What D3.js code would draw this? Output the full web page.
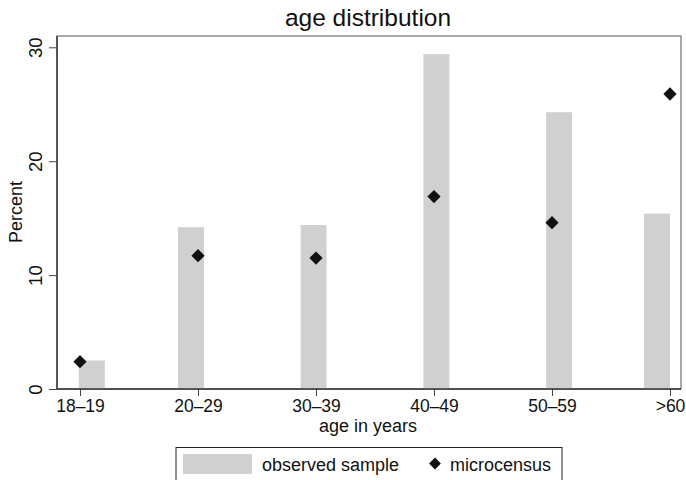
<!DOCTYPE html>
<html>
<head>
<meta charset="utf-8">
<script src="https://cdn.jsdelivr.net/npm/d3@7"></script>
<style>
  body { margin: 0; background: #fff; }
  svg text { font-family: "Liberation Sans", Arial, sans-serif; fill: #111; }
</style>
</head>
<body>
<div id="chart"></div>
<script>
const categories = ["18\u201319", "20\u201329", "30\u201339", "40\u201349", "50\u201359", ">60"];
// bars sit at their own x values (category index units), not on the ticks
const barX = [1.1, 1.94, 2.98, 4.02, 5.06, 5.89];
const observed = [2.5, 14.2, 14.4, 29.4, 24.3, 15.4];
const microcensus = [2.4, 11.7, 11.5, 16.9, 14.6, 25.9];
const yTicks = [0, 10, 20, 30];

const width = 686, height = 480;
const plotL = 57, plotR = 681, plotT = 36, plotB = 389;

const svg = d3.select("#chart")
    .append("svg")
    .attr("width", width)
    .attr("height", height);

const x = d3.scaleLinear().domain([1, 6]).range([80, 670]);
const y = d3.scaleLinear().domain([0, 30]).range([plotB, 47.3]);
const barW = x(1.22) - x(1);

// frame
svg.append("rect")
    .attr("x", plotL).attr("y", plotT)
    .attr("width", plotR - plotL).attr("height", plotB - plotT)
    .attr("fill", "none").attr("stroke", "#555").attr("stroke-width", 1);

// bars
svg.selectAll("rect.bar")
    .data(observed)
    .enter()
    .append("rect")
    .attr("class", "bar")
    .attr("x", (d, i) => x(barX[i]) - barW / 2)
    .attr("y", (d) => y(d))
    .attr("width", barW)
    .attr("height", (d) => y(0) - y(d))
    .attr("fill", "#d0d0d0");

// diamonds
const sym = d3.symbol().type(d3.symbolSquare).size(88);
svg.selectAll("path.pt")
    .data(microcensus)
    .enter()
    .append("path")
    .attr("class", "pt")
    .attr("d", sym)
    .attr("transform", (d, i) => `translate(${x(i + 1)},${y(d)}) rotate(45)`)
    .attr("fill", "#111");

// axes
const yAxis = svg.append("g")
    .attr("transform", `translate(${plotL},0)`)
    .call(d3.axisLeft(y).tickValues(yTicks).tickSize(8).tickSizeOuter(0));
yAxis.select(".domain").remove();
yAxis.selectAll("line").attr("stroke", "#444");
yAxis.selectAll(".tick text")
    .attr("font-size", 18.5)
    .attr("x", 0).attr("dy", null)
    .attr("y", -15)
    .attr("text-anchor", "middle")
    .attr("transform", "rotate(-90)");

const xAxis = svg.append("g")
    .attr("transform", `translate(0,${plotB})`)
    .call(d3.axisBottom(x).tickValues([1, 2, 3, 4, 5, 6])
        .tickFormat((d) => categories[d - 1]).tickSize(7).tickSizeOuter(0).tickPadding(4));
xAxis.select(".domain").remove();
xAxis.selectAll("line").attr("stroke", "#444");
xAxis.selectAll("text").attr("font-size", 17.5);

svg.append("line")
    .attr("x1", plotL).attr("x2", plotR)
    .attr("y1", plotB).attr("y2", plotB)
    .attr("stroke", "#333").attr("stroke-width", 1.4);
svg.append("line")
    .attr("x1", plotL).attr("x2", plotL)
    .attr("y1", plotT).attr("y2", plotB)
    .attr("stroke", "#333").attr("stroke-width", 1.4);

// titles
svg.append("text")
    .attr("x", 368).attr("y", 26)
    .attr("text-anchor", "middle")
    .attr("font-size", 24.5)
    .text("age distribution");

svg.append("text")
    .attr("x", 368).attr("y", 432)
    .attr("text-anchor", "middle")
    .attr("font-size", 18)
    .text("age in years");

svg.append("text")
    .attr("transform", "translate(22,212) rotate(-90)")
    .attr("text-anchor", "middle")
    .attr("font-size", 18)
    .text("Percent");

// legend
const lg = svg.append("g");
lg.append("rect")
    .attr("x", 176).attr("y", 447.5)
    .attr("width", 386).attr("height", 40)
    .attr("fill", "#fff").attr("stroke", "#222").attr("stroke-width", 1);
lg.append("rect")
    .attr("x", 183).attr("y", 454)
    .attr("width", 69).attr("height", 20)
    .attr("fill", "#d0d0d0");
lg.append("text")
    .attr("x", 262).attr("y", 471)
    .attr("font-size", 18)
    .text("observed sample");
lg.append("path")
    .attr("d", d3.symbol().type(d3.symbolSquare).size(70))
    .attr("transform", "translate(435,463.5) rotate(45)")
    .attr("fill", "#111");
lg.append("text")
    .attr("x", 450).attr("y", 471)
    .attr("font-size", 18)
    .text("microcensus");
</script>
</body>
</html>
